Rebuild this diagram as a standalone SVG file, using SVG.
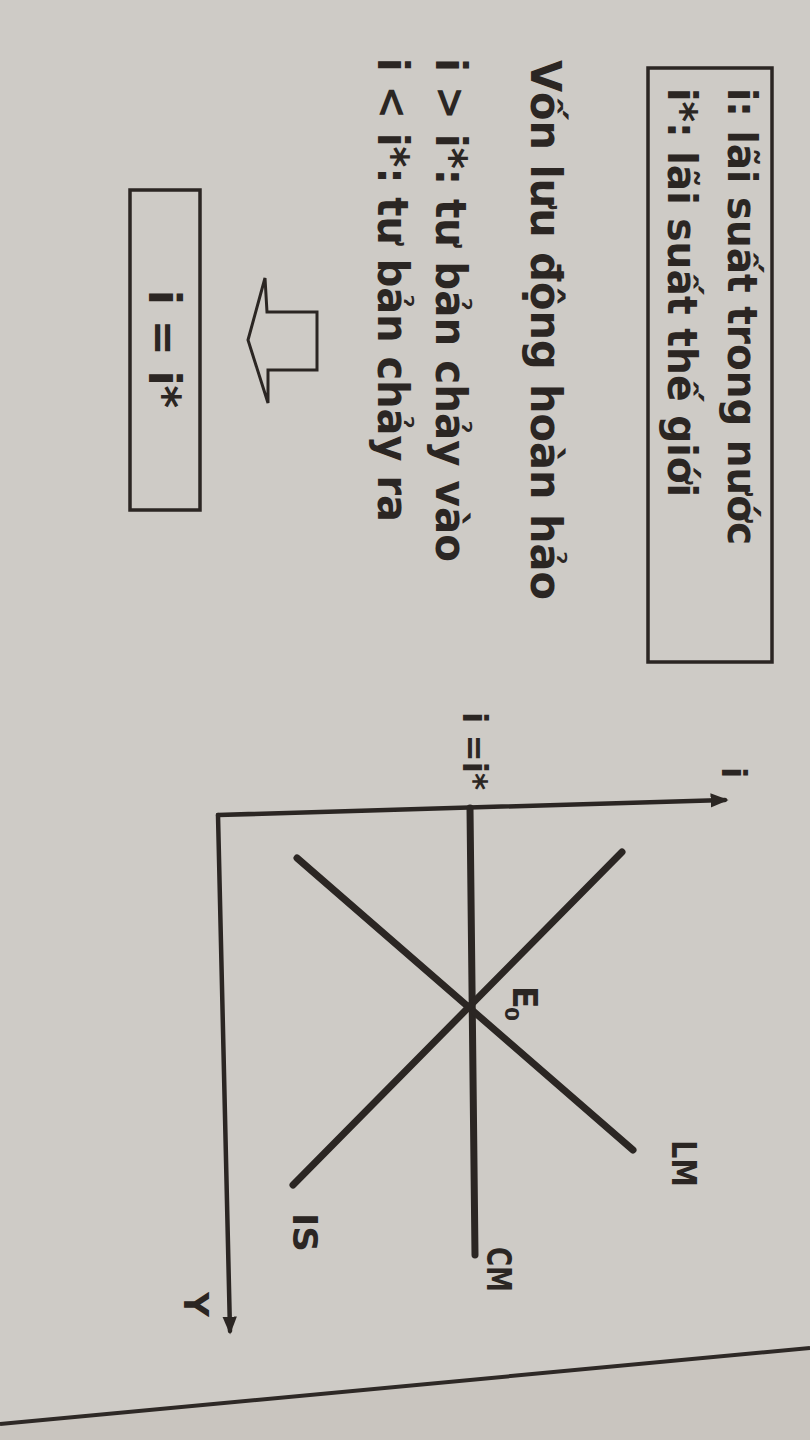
<svg xmlns="http://www.w3.org/2000/svg" width="810" height="1440" viewBox="0 0 810 1440">
<defs>
<style>
.ink{fill:#2b2623}
.t{font-family:"DejaVu Sans","Liberation Sans",sans-serif;font-weight:bold;fill:#2b2623}
.box{fill:none;stroke:#2b2623;stroke-width:3.5}
.ax{fill:none;stroke:#2b2623;stroke-width:4.5;stroke-linecap:round}
.cv{fill:none;stroke:#2b2623;stroke-width:7;stroke-linecap:round}
</style>
<marker id="ah" viewBox="0 0 10 10" refX="8" refY="5" markerWidth="4" markerHeight="4" orient="auto" markerUnits="strokeWidth">
<path d="M0,1 L10,5 L0,9 Z" fill="#2b2623"/>
</marker>
</defs>
<rect x="0" y="0" width="810" height="1440" fill="#cecbc6"/>
<path d="M0,1424 L810,1348 L810,1440 L0,1440 Z" fill="#c9c5bf"/>
<line x1="0" y1="1424" x2="810" y2="1348" stroke="#2e2926" stroke-width="4"/>

<g id="legend">
<rect class="box" x="648" y="68" width="124" height="594"/>
<text class="t" font-size="40" transform="translate(728,88) rotate(90)" textLength="457" lengthAdjust="spacingAndGlyphs">i: lãi suất trong nước</text>
<text class="t" font-size="40" transform="translate(668,88) rotate(90)" textLength="409" lengthAdjust="spacingAndGlyphs">i*: lãi suất thế giới</text>
</g>

<g id="mobility">
<text class="t" font-size="42" transform="translate(531,60) rotate(90)" textLength="540" lengthAdjust="spacingAndGlyphs">Vốn lưu động hoàn hảo</text>
<text class="t" font-size="42" transform="translate(436,58) rotate(90)" textLength="504" lengthAdjust="spacingAndGlyphs">i &gt; i*: tư bản chảy vào</text>
<text class="t" font-size="42" transform="translate(378,58) rotate(90)" textLength="464" lengthAdjust="spacingAndGlyphs">i &lt; i*: tư bản chảy ra</text>
</g>

<g id="arrow">
<polygon points="248,340 265,278 267,312 317,312 317,370 268,370 268,403" fill="none" stroke="#2b2623" stroke-width="3" stroke-linejoin="miter"/>
</g>

<g id="result">
<rect class="box" x="130" y="190" width="70" height="320"/>
<text class="t" font-size="44" transform="translate(149,290) rotate(90)" textLength="118" lengthAdjust="spacingAndGlyphs">i = i*</text>
</g>

<g id="connectors">
<line class="ax" x1="218" y1="815" x2="725" y2="800" marker-end="url(#ah)"/>
<line class="ax" x1="218" y1="815" x2="230" y2="1331" marker-end="url(#ah)"/>
<line id="CM" class="cv" x1="470" y1="808" x2="475" y2="1255"/>
<line id="LM" class="cv" x1="297" y1="858" x2="633" y2="1150"/>
<line id="IS" class="cv" x1="622" y1="852" x2="293" y2="1185"/>
</g>

<g id="labels">
<text class="t" font-size="33" transform="translate(722,767) rotate(90)">i</text>
<text class="t" font-size="33" transform="translate(463,712) rotate(90)" textLength="78" lengthAdjust="spacingAndGlyphs">i =i*</text>
<text class="t" font-size="33" transform="translate(513,986) rotate(90)">E</text>
<text class="t" font-size="20" transform="translate(505,1007) rotate(90)">0</text>
<text class="t" font-size="33" transform="translate(672,1140) rotate(90)" textLength="47" lengthAdjust="spacingAndGlyphs">LM</text>
<text class="t" font-size="33" transform="translate(293,1213) rotate(90)" textLength="39" lengthAdjust="spacingAndGlyphs">IS</text>
<text class="t" font-size="33" transform="translate(487,1247) rotate(90)" textLength="45" lengthAdjust="spacingAndGlyphs">CM</text>
<text class="t" font-size="33" transform="translate(184,1292) rotate(90)" textLength="25" lengthAdjust="spacingAndGlyphs">Y</text>
</g>
</svg>
